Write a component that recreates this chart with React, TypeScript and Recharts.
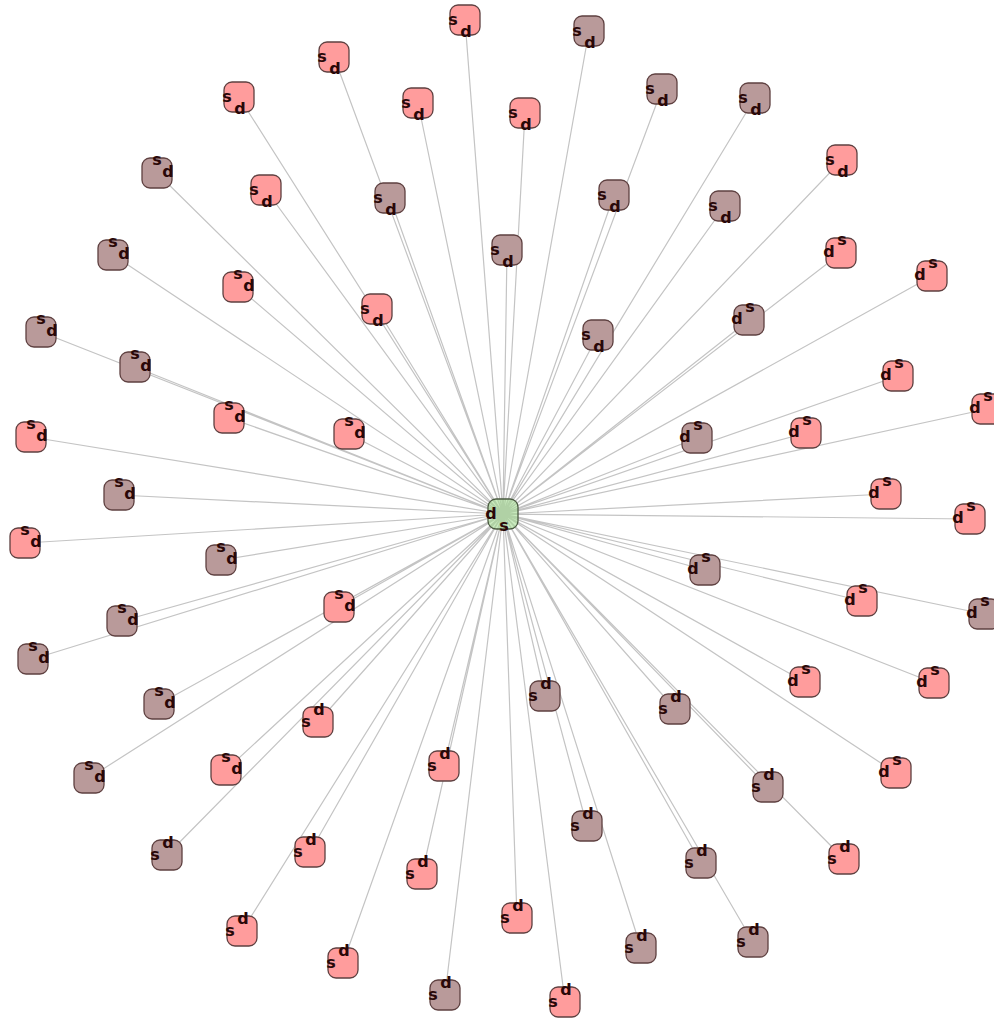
import { ScatterChart, Scatter, XAxis, YAxis } from "recharts";

type Node = { x: number; y: number; kind: string };

const hub = { x: 503, y: 514 };

const nodeX = [465, 589, 334, 239, 418, 525, 662, 755, 157, 266, 390, 614, 725, 842, 507, 113, 238, 841, 932, 377, 749, 41, 598, 135, 898, 229, 349, 31, 697, 806, 987, 119, 886, 970, 25, 221, 705, 862, 984, 122, 339, 33, 159, 805, 934, 545, 675, 318, 89, 226, 444, 768, 896, 167, 310, 587, 422, 701, 844, 242, 517, 641, 753, 343, 445, 565];
const nodeY = [20, 31, 57, 97, 103, 113, 89, 98, 173, 190, 198, 195, 206, 160, 250, 255, 287, 253, 276, 309, 320, 332, 335, 367, 376, 418, 434, 437, 438, 433, 409, 495, 494, 519, 543, 560, 570, 601, 614, 621, 607, 659, 704, 682, 683, 696, 709, 722, 778, 770, 766, 787, 773, 855, 852, 826, 874, 863, 859, 931, 918, 948, 942, 963, 995, 1002];
// p = pink node, b = brown node
const nodeKind = ["pbppppbbbp", "bbbpbbpppp", "bbbbppppbp", "pbpppbbpbb", "pbbppbbpbp", "pbpbpbpbpp", "pbbpbp"].join("").split("");

const nodes: Node[] = nodeX.map((x, i) => ({ x, y: nodeY[i], kind: nodeKind[i] }));

// spokes: hub -> node -> hub -> node ...
const spokes = nodes.flatMap((n) => [hub, { x: n.x, y: n.y }]);

const HALF = 15;
const labelFont = { fontFamily: "DejaVu Sans", fontWeight: "bold", fontSize: 16, fill: "#2a0808" } as const;

function NodeShape(props: any) {
  const { cx, cy, payload } = props;
  if (cx == null || cy == null) return <g />;
  const ux = hub.x - payload.x;
  const uy = hub.y - payload.y;
  let d: [number, number];
  let s: [number, number];
  if (Math.abs(uy) >= Math.abs(ux)) {
    if (uy > 0) {
      // hub below: d at bottom, s on the left
      d = [cx + 1, cy + 11];
      s = [cx - 12, cy - 1];
    } else {
      // hub above: d at top, s on the left
      d = [cx + 1, cy - 13];
      s = [cx - 12, cy - 1];
    }
  } else if (ux > 0) {
    // hub to the right: d on the right, s on top
    d = [cx + 11, cy - 2];
    s = [cx, cy - 14];
  } else {
    // hub to the left: d on the left, s on top
    d = [cx - 12, cy - 2];
    s = [cx + 1, cy - 14];
  }
  const fill = payload.kind === "b" ? "#b99a9a" : "#ff9c9c";
  return (
    <g>
      <rect x={cx - HALF} y={cy - HALF} width={HALF * 2} height={HALF * 2} rx={8} ry={8}
        fill={fill} stroke="#5e4040" strokeWidth={1.3} />
      <text x={s[0]} y={s[1]} textAnchor="middle" dominantBaseline="central" {...labelFont}>s</text>
      <text x={d[0]} y={d[1]} textAnchor="middle" dominantBaseline="central" {...labelFont}>d</text>
    </g>
  );
}

function HubShape(props: any) {
  const { cx, cy } = props;
  if (cx == null || cy == null) return <g />;
  return (
    <g>
      <rect x={cx - HALF} y={cy - HALF} width={HALF * 2} height={HALF * 2} rx={8} ry={8}
        fill="rgba(160,220,140,0.55)" stroke="#4a5a40" strokeWidth={1.3} />
      <text x={cx - 12} y={cy - 1} textAnchor="middle" dominantBaseline="central" {...labelFont}>d</text>
      <text x={cx + 1} y={cy + 11} textAnchor="middle" dominantBaseline="central" {...labelFont}>s</text>
    </g>
  );
}

export default function App() {
  return (
    <div style={{ position: "absolute", left: 0, top: 0, width: 994, height: 1021, background: "#fff" }}>
      <ScatterChart width={994} height={1021} margin={{ top: 0, right: 0, bottom: 0, left: 0 }}>
        <XAxis type="number" dataKey="x" domain={[0, 994]} hide />
        <YAxis type="number" dataKey="y" domain={[0, 1021]} reversed hide />
        <Scatter data={spokes} line={{ stroke: "#c4c4c4", strokeWidth: 1.2 }} lineType="joint"
          shape={() => <g />} isAnimationActive={false} />
        <Scatter data={[hub]} shape={HubShape} isAnimationActive={false} />
        <Scatter data={nodes} shape={NodeShape} isAnimationActive={false} />
      </ScatterChart>
    </div>
  );
}
